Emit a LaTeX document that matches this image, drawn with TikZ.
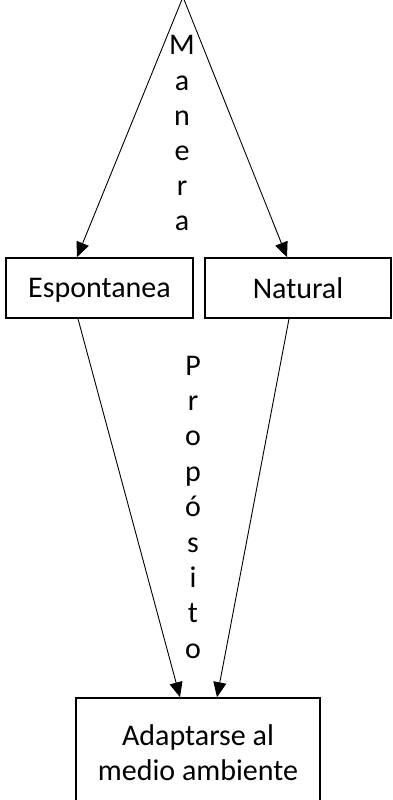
\documentclass[tikz,border=0pt]{standalone}
\usepackage{fontspec}
\setmainfont{Carlito}
\usetikzlibrary{arrows.meta}
\usetikzlibrary{positioning}
\usetikzlibrary{calc}

\tikzset{
	cajon/.style={draw, line width=1.6pt, minimum height=60pt, align=center, font=\fontsize{30}{35}\selectfont},
	flecha/.style={line width=0.9pt, -{Triangle[length=15pt,width=13pt]}},
	letra/.style={anchor=base, inner sep=0pt, font=\fontsize{30}{35}\selectfont}
}

\begin{document}
\begin{tikzpicture}[x=1pt,y=-1pt]
				\useasboundingbox (0,0) rectangle (393,800);
				% boxes
				\node[cajon, minimum width=187pt, text depth=0pt] (esp) at (99.5,288) {Espontanea};
				\node[cajon, minimum width=186pt, text depth=0pt] (nat) at (298,288) {Natural};
				\node[cajon, minimum width=244pt, minimum height=110pt] (adap) at (198,753) {Adaptarse al\\medio ambiente};
				% top point
				\coordinate (cima) at (183,-3);
				
				\draw[flecha] (cima) -- ([xshift=-22.5pt]esp.north);
				\draw[flecha] (cima) -- ([xshift=-11pt]nat.north);
				\draw[flecha] ([xshift=-21.5pt]esp.south) -- ([xshift=-18pt]adap.north);
				\draw[flecha] ([xshift=-9pt]nat.south) -- ([xshift=19pt]adap.north);
				% vertical labels
				\foreach \l [count=\i] in {M,a,n,e,r,a}
					\node[letra] (man\i) at (182,{55+35*(\i-1)}) {\l};
				\foreach \l [count=\i] in {P,r,o,p,ó,s,i,t,o}
					\node[letra] (pro\i) at (193,{375+35.4*(\i-1)}) {\l};
			\end{tikzpicture}
\end{document}
